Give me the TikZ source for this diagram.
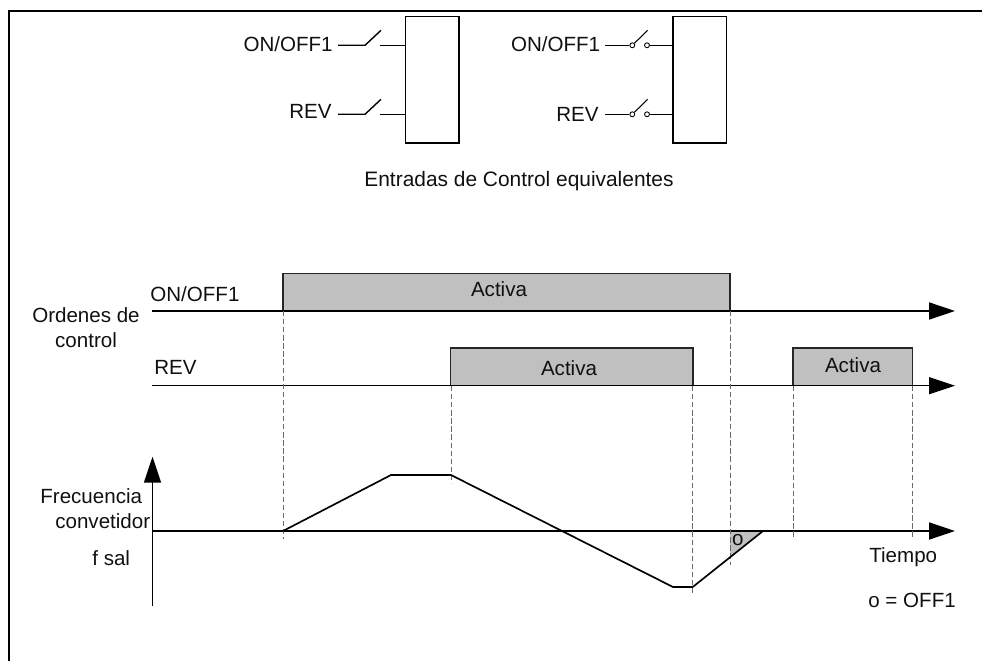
\documentclass[tikz,border=0pt]{standalone}
\usepackage{fontspec}
\setmainfont{Liberation Sans}
\definecolor{mFill}{HTML}{C0C0C0}
\definecolor{mDash}{HTML}{6A6A6A}
\definecolor{mLine}{HTML}{101010}
\usetikzlibrary{arrows.meta, positioning}
\begin{document}
\begin{tikzpicture}[x=0.02cm, y=-0.02cm,
  lbl/.style={inner sep=0pt, font=\fontsize{11.7}{14}\selectfont, text=mLine},
  relay/.style={draw=black, line width=0.8pt, minimum width=1.07cm, minimum height=2.54cm, inner sep=0pt},
  contact/.style={draw=black, circle, line width=0.5pt, minimum size=2.8pt, inner sep=0pt},
  wire/.style={draw=black, line width=0.8pt},
  axis/.style={line width=1.1pt, -{Triangle[length=14.7pt, width=9.6pt]}},
  active/.style={draw=black!85, line width=0.9pt, fill=mFill},
  guide/.style={mDash, line width=0.55pt, dash pattern=on 3pt off 1.6pt}]
  \useasboundingbox (0,0) rectangle (982,661);
  % frame
  \coordinate (fa) at (9,661);
  \coordinate (fb) at (9,10.7);
  \coordinate (fc) at (982,10.7);
  \draw[line width=1.3pt] (fa) -- (fb) -- (fc);
  % equivalent inputs
  \node[relay] (boxl) at (432.4,79.7) {};
  \node[relay] (boxr) at (699.7,79.7) {};
  \node[lbl, anchor=base east] (onl) at (333,51.7) {ON/OFF1};
  \node[lbl, anchor=base east] (revl) at (332,118.3) {REV};
  \node[lbl, anchor=base east] (onr) at (600.5,51.7) {ON/OFF1};
  \node[lbl, anchor=base east] (revr) at (599,121.7) {REV};
  \foreach \n/\y in {on/45.3, rev/114.3}{
    \coordinate (a\n) at (338,\y);
    \coordinate (b\n) at (365,\y);
    \coordinate (t\n) at (381,\y-15);
    \coordinate (d\n) at (380,\y);
    \draw[wire] (a\n) -- (b\n) -- (t\n);
    \draw[wire] (d\n) -- (boxl.west |- d\n);
    \coordinate (e\n) at (605,\y);
    \node[contact] (f\n) at (632.3,\y) {};
    \node[contact] (g\n) at (647,\y) {};
    \coordinate (h\n) at (647.7,\y-15);
    \draw[wire] (e\n) -- (f\n);
    \draw[wire, line width=0.6pt] (f\n) -- (h\n);
    \draw[wire] (g\n) -- (boxr.west |- g\n);}
  \node[lbl, anchor=base, font=\fontsize{11.9}{14}\selectfont] (cap) at (519,186.3) {Entradas de Control equivalentes};
  % time axes
  \coordinate (x1) at (152,311);  \coordinate (y1) at (955,311);
  \coordinate (x2) at (152,385.7); \coordinate (y2) at (955,385.7);
  \coordinate (x3) at (152,531);  \coordinate (y3) at (955,531);
  \coordinate (x4) at (152.5,606); \coordinate (y4) at (152.5,456.7);
  % pulses
  \coordinate (p1a) at (283,311);   \coordinate (p1b) at (730,273.5);
  \coordinate (p2a) at (450.5,385.7); \coordinate (p2b) at (692.7,348);
  \coordinate (p3a) at (793,385.7); \coordinate (p3b) at (912.3,348);
  \foreach \n in {1,2,3}{
    \draw[active] (p\n a) rectangle (p\n b);}
  \draw[axis] (x1) -- (y1);
  \draw[axis, line width=0.75pt] (x2) -- (y2);
  \draw[axis, line width=0.9pt] (x4) -- (y4);
  % off ramp area
  \coordinate (r1) at (730,531);
  \coordinate (r2) at (763,531);
  \coordinate (r3) at (730,557);
  \fill[mFill] (r1) -- (r2) -- (r3) -- cycle;
  \draw[axis] (x3) -- (y3);
  % guides
  \foreach \a/\x/\b in {311/283/539, 386/451/483, 386/692.7/595, 311/730/565, 386/793/537, 386/912.3/537}{
    \coordinate (ga) at (\x,\a);
    \coordinate (gb) at (\x,\b);
    \draw[guide] (ga) -- (gb);}
  % output frequency
  \coordinate (c1) at (283,531);
  \coordinate (c2) at (391,475);
  \coordinate (c3) at (451,475);
  \coordinate (c4) at (673,587);
  \coordinate (c5) at (692.7,587);
  \draw[line width=0.95pt, line join=round] (c1) -- (c2) -- (c3) -- (c4) -- (c5) -- (r2);
  % labels
  \node[lbl, anchor=base west] (lon) at (150,301.7) {ON/OFF1};
  \node[lbl, anchor=base west] (lrev) at (154,375) {REV};
  \node[lbl, anchor=base] (ord) at (86,323) {Ordenes de};
  \node[lbl, anchor=base] (ctl) at (86,347.5) {control};
  \node[lbl, anchor=base west] (fre) at (40,503) {Frecuencia};
  \node[lbl, anchor=base west] (con) at (55,528) {convetidor};
  \node[lbl, anchor=base west] (fsa) at (92,565.7) {f sal};
  \node[lbl, anchor=base] (ac1) at (499,297) {Activa};
  \node[lbl, anchor=base] (ac2) at (569,375.7) {Activa};
  \node[lbl, anchor=base] (ac3) at (853,372.7) {Activa};
  \node[lbl, anchor=base] (oof) at (737.7,545) {o};
  \node[lbl, anchor=base west] (tie) at (869,562) {Tiempo};
  \node[lbl, anchor=base west] (leg) at (868,607.6) {o = OFF1};
\end{tikzpicture}
\end{document}
